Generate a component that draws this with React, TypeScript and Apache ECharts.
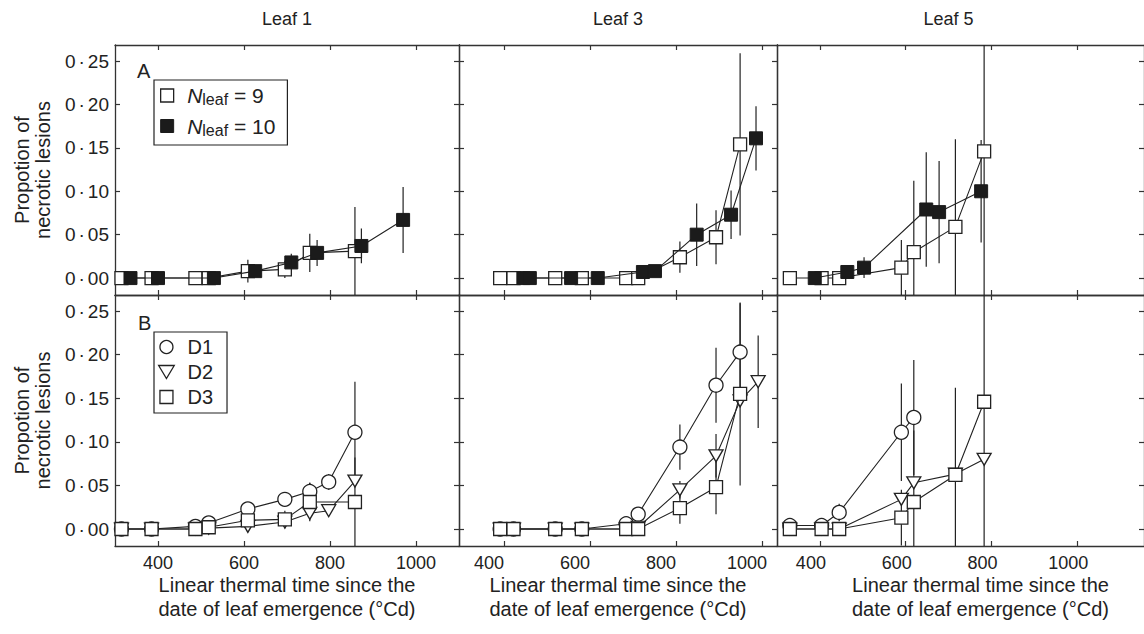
import React, { useEffect, useRef } from "react";
import * as echarts from "echarts";

// ---------- tick values & labels ----------
const xTicks = [400, 600, 800, 1000];
const yTicks = [0, 0.05, 0.1, 0.15, 0.2, 0.25];
const leafTitles = ["Leaf 1", "Leaf 3", "Leaf 5"];
const xTitle = "Linear thermal time since the\ndate of leaf emergence (°Cd)";
const yTitle = "Propotion of\nnecrotic lesions";
const panelLetters = ["A", "B"];

// ---------- Panel A (Nleaf = 9 / Nleaf = 10) ----------
// Leaf 1
const l1N9X = [315, 385, 487, 518, 609, 695, 753, 858];
const l1N9Y = [0, 0, 0, 0, 0.008, 0.01, 0.029, 0.031];
const l1N9E = [0, 0, 0, 0, 0.013, 0.01, 0.022, 0.051];
const l1N10X = [336, 400, 530, 626, 710, 770, 873, 970];
const l1N10Y = [0, 0, 0, 0.008, 0.018, 0.029, 0.037, 0.067];
const l1N10E = [0, 0, 0, 0, 0.01, 0.015, 0.02, 0.038];
// Leaf 3
const l3N9X = [391, 422, 519, 581, 684, 712, 809, 893, 949];
const l3N9Y = [0, 0, 0, 0, 0, 0, 0.024, 0.047, 0.154];
const l3N9E = [0, 0, 0, 0, 0, 0, 0.018, 0.031, 0.105];
const l3N10X = [445, 460, 556, 618, 723, 751, 848, 928, 986];
const l3N10Y = [0, 0, 0, 0, 0.007, 0.008, 0.05, 0.073, 0.161];
const l3N10E = [0, 0, 0, 0, 0.006, 0.006, 0.036, 0.028, 0.037];
// Leaf 5
const l5N9X = [330, 404, 445, 590, 619, 716, 783];
const l5N9Y = [0, 0, 0, 0.012, 0.03, 0.059, 0.146];
const l5N9E = [0, 0, 0, 0.032, 0.082, 0.101, 0.3];
const l5N10X = [388, 464, 503, 648, 678, 776];
const l5N10Y = [0, 0.007, 0.012, 0.079, 0.076, 0.1];
const l5N10E = [0, 0.005, 0.012, 0.066, 0.059, 0.059];

// ---------- Panel B (D1 / D2 / D3) ----------
// Leaf 1
const l1D1X = [315, 385, 487, 518, 609, 695, 753, 797, 858];
const l1D1Y = [0, 0, 0.003, 0.007, 0.023, 0.034, 0.043, 0.054, 0.111];
const l1D1E = [0, 0, 0, 0, 0, 0.008, 0.01, 0.009, 0.058];
const l1D2X = [315, 385, 487, 518, 609, 695, 753, 797, 858];
const l1D2Y = [0, 0, 0, 0.001, 0.003, 0.008, 0.018, 0.021, 0.055];
const l1D2E = [0, 0, 0, 0, 0, 0, 0, 0, 0];
const l1D3X = [315, 385, 487, 518, 609, 695, 753, 858];
const l1D3Y = [0, 0, 0, 0.002, 0.01, 0.011, 0.031, 0.031];
const l1D3E = [0, 0, 0, 0, 0.012, 0.01, 0.022, 0.051];
// Leaf 3
const l3D1X = [391, 422, 519, 581, 684, 712, 809, 893, 949];
const l3D1Y = [0, 0, 0, 0, 0.006, 0.017, 0.094, 0.165, 0.203];
const l3D1E = [0, 0, 0, 0, 0, 0, 0.026, 0.043, 0.056];
const l3D2X = [391, 422, 519, 581, 684, 712, 809, 893, 949, 991];
const l3D2Y = [0, 0, 0, 0, 0, 0.002, 0.045, 0.084, 0.147, 0.169];
const l3D2E = [0, 0, 0, 0, 0, 0, 0.01, 0.025, 0, 0.053];
const l3D3X = [391, 422, 519, 581, 684, 712, 809, 893, 949];
const l3D3Y = [0, 0, 0, 0, 0, 0, 0.024, 0.048, 0.155];
const l3D3E = [0, 0, 0, 0, 0, 0, 0.018, 0.031, 0.105];
// Leaf 5
const l5D1X = [330, 404, 445, 590, 619];
const l5D1Y = [0.004, 0.004, 0.019, 0.111, 0.128];
const l5D1E = [0, 0, 0.01, 0.056, 0.066];
const l5D2X = [330, 404, 445, 590, 619, 716, 783];
const l5D2Y = [0, 0, 0, 0.034, 0.053, 0.063, 0.08];
const l5D2E = [0, 0, 0, 0, 0, 0, 0];
const l5D3X = [330, 404, 445, 590, 619, 716, 783];
const l5D3Y = [0, 0, 0, 0.013, 0.031, 0.062, 0.146];
const l5D3E = [0, 0, 0, 0.032, 0.082, 0.1, 0.3];

// ---------- layout / style ----------
const FONT = "'Liberation Sans', Arial, Helvetica, sans-serif";
const INK = "#222";
const AXIS = "#333";
const Y_MIN = -0.0195;
const Y_MAX = 0.2685;
// labelShift: horizontal offset of tick labels vs. ticks; headShift / titleShift: offsets of names
const cols = [
  { left: 115, width: 344, min: 300, max: 1100, labelShift: 0, headShift: 0, titleShift: 0 },
  { left: 459, width: 318, min: 295.3, max: 1034.8, labelShift: -15, headShift: 0, titleShift: 0 },
  { left: 777, width: 368, min: 300, max: 1155.8, labelShift: -9, headShift: -12, titleShift: 20 },
];
const rows = [
  { top: 45, height: 250 },
  { top: 295, height: 251 },
];

const N9 = "Nleaf = 9";
const N10 = "Nleaf = 10";
const D1 = "D1";
const D2 = "D2";
const D3 = "D3";

const openStyle = { color: "#fff", borderColor: INK, borderWidth: 1.3 };
const filledStyle = { color: "#1b1b1b", borderColor: "#1b1b1b", borderWidth: 1 };
const markers: Record<string, any> = {
  [N9]: { symbol: "rect", symbolSize: 13, itemStyle: openStyle },
  [N10]: { symbol: "rect", symbolSize: 13, itemStyle: filledStyle },
  [D1]: { symbol: "circle", symbolSize: 14, itemStyle: openStyle },
  [D2]: { symbol: "triangle", symbolSize: [14, 12], symbolRotate: 180, itemStyle: openStyle },
  [D3]: { symbol: "rect", symbolSize: 13, itemStyle: openStyle },
};

type Set = { name: string; x: number[]; y: number[]; e: number[] };
const panels: Set[][] = [
  [
    { name: N9, x: l1N9X, y: l1N9Y, e: l1N9E },
    { name: N10, x: l1N10X, y: l1N10Y, e: l1N10E },
  ],
  [
    { name: N9, x: l3N9X, y: l3N9Y, e: l3N9E },
    { name: N10, x: l3N10X, y: l3N10Y, e: l3N10E },
  ],
  [
    { name: N9, x: l5N9X, y: l5N9Y, e: l5N9E },
    { name: N10, x: l5N10X, y: l5N10Y, e: l5N10E },
  ],
  [
    { name: D1, x: l1D1X, y: l1D1Y, e: l1D1E },
    { name: D2, x: l1D2X, y: l1D2Y, e: l1D2E },
    { name: D3, x: l1D3X, y: l1D3Y, e: l1D3E },
  ],
  [
    { name: D1, x: l3D1X, y: l3D1Y, e: l3D1E },
    { name: D2, x: l3D2X, y: l3D2Y, e: l3D2E },
    { name: D3, x: l3D3X, y: l3D3Y, e: l3D3E },
  ],
  [
    { name: D1, x: l5D1X, y: l5D1Y, e: l5D1E },
    { name: D2, x: l5D2X, y: l5D2Y, e: l5D2E },
    { name: D3, x: l5D3X, y: l5D3Y, e: l5D3E },
  ],
];

const fmtY = (v: number) => {
  const [a, b] = v.toFixed(2).split(".");
  return `{n|${a}}{d|·}{n|${b}}`;
};
const fmtX = (v: number) => `{v|${v}}`;
const shiftPad = (s: number) => (s < 0 ? [0, -2 * s, 0, 0] : [0, 0, 0, 2 * s]);

function buildOption() {
  const grid: any[] = [];
  const xAxis: any[] = [];
  const yAxis: any[] = [];
  const series: any[] = [];
  const axisLine = { show: true, onZero: false, lineStyle: { color: AXIS, width: 1.3 } };
  const tickStyle = { color: AXIS, width: 1.2 };

  rows.forEach((r, ri) => {
    cols.forEach((c, ci) => {
      const g = ri * 3 + ci;
      grid.push({ left: c.left, top: r.top, width: c.width, height: r.height, containLabel: false });
      const xBase = {
        type: "value",
        gridIndex: g,
        min: c.min,
        max: c.max,
        axisLine,
        splitLine: { show: false },
        axisTick: { show: true, inside: true, length: 5, customValues: xTicks, lineStyle: tickStyle },
      };
      xAxis.push({
        ...xBase,
        position: "bottom",
        axisLabel: {
          show: ri === 1,
          customValues: xTicks,
          formatter: fmtX,
          margin: 8,
          color: INK,
          fontFamily: FONT,
          fontSize: 18,
          rich: {
            v: { fontSize: 18, color: INK, fontFamily: FONT, padding: shiftPad(c.labelShift) },
          },
        },
        name: ri === 1 ? xTitle : "",
        nameLocation: "middle",
        nameGap: 21,
        nameTextStyle: {
          fontSize: 20,
          lineHeight: 24,
          color: INK,
          fontFamily: FONT,
          padding: shiftPad(c.titleShift),
        },
      });
      xAxis.push({
        ...xBase,
        position: "top",
        axisLabel: { show: false },
        name: ri === 0 ? leafTitles[ci] : "",
        nameLocation: "middle",
        nameGap: 16,
        nameTextStyle: {
          fontSize: 18,
          lineHeight: 21,
          color: INK,
          fontFamily: FONT,
          padding: shiftPad(c.headShift),
        },
      });
      const yBase = {
        type: "value",
        gridIndex: g,
        min: Y_MIN,
        max: Y_MAX,
        axisLine,
        splitLine: { show: false },
      };
      yAxis.push({
        ...yBase,
        position: "left",
        axisTick: { show: ci !== 2, inside: true, length: 5, customValues: yTicks, lineStyle: tickStyle },
        axisLabel: {
          show: ci === 0,
          customValues: yTicks,
          formatter: fmtY,
          margin: 6,
          color: INK,
          fontFamily: FONT,
          fontSize: 19,
          rich: {
            n: { fontSize: 19, color: INK, fontFamily: FONT },
            d: { fontSize: 19, color: INK, fontFamily: FONT, padding: [0, 3, 0, 3] },
          },
        },
        name: ci === 0 ? yTitle : "",
        nameLocation: "middle",
        nameGap: 62,
        nameRotate: 90,
        nameTextStyle: { fontSize: 20, lineHeight: 21, color: INK, fontFamily: FONT },
      });
      yAxis.push({
        ...yBase,
        position: "right",
        axisTick: { show: true, inside: true, length: 5, customValues: yTicks, lineStyle: tickStyle },
        axisLabel: { show: false },
      });

      const sets = panels[g];
      // error bars first (behind markers)
      sets.forEach((s) => {
        series.push({
          type: "custom",
          xAxisIndex: 2 * g,
          yAxisIndex: 2 * g,
          silent: true,
          z: 2,
          encode: { x: 0, y: 1 },
          data: s.x.map((x, i) => [x, s.y[i], s.e[i]]),
          renderItem: (params: any, api: any) => {
            const x = api.value(0);
            const y = api.value(1);
            const e = api.value(2);
            if (!e) return null;
            const lo = Math.max(y - e, Y_MIN);
            const hi = Math.min(y + e, Y_MAX);
            const p1 = api.coord([x, lo]);
            const p2 = api.coord([x, hi]);
            return {
              type: "line",
              shape: { x1: p1[0], y1: p1[1], x2: p2[0], y2: p2[1] },
              style: { stroke: INK, lineWidth: 1.2 },
            };
          },
        });
      });
      sets.forEach((s, si) => {
        const m = markers[s.name];
        series.push({
          type: "line",
          name: s.name,
          xAxisIndex: 2 * g,
          yAxisIndex: 2 * g,
          silent: true,
          z: 3 + si,
          data: s.x.map((x, i) => [x, s.y[i]]),
          symbol: m.symbol,
          symbolSize: m.symbolSize,
          symbolRotate: m.symbolRotate || 0,
          itemStyle: m.itemStyle,
          lineStyle: { color: INK, width: 1.1 },
          emphasis: { disabled: true },
        });
      });
    });
  });

  const SQ = "path://M0,0H10V10H0Z";
  const TRI = "path://M0,0H12L6,10Z";
  const legend = [
    {
      left: 154,
      top: 80,
      orient: "vertical",
      selectedMode: false,
      itemWidth: 30,
      itemHeight: 13,
      itemGap: 8,
      padding: [5, 12, 7, 6],
      borderColor: INK,
      borderWidth: 1.2,
      borderRadius: 0,
      data: [
        { name: N9, icon: SQ, itemStyle: openStyle },
        { name: N10, icon: SQ, itemStyle: filledStyle },
      ],
      formatter: (name: string) => (name === N9 ? "{i|N}{s|leaf}{t| = 9}" : "{i|N}{s|leaf}{t| = 10}"),
      textStyle: {
        color: INK,
        fontFamily: FONT,
        rich: {
          i: { fontStyle: "italic", fontSize: 21, lineHeight: 24, fontFamily: FONT, color: INK },
          s: { fontSize: 16, verticalAlign: "bottom", fontFamily: FONT, color: INK },
          t: { fontSize: 21, lineHeight: 24, fontFamily: FONT, color: INK },
        },
      },
    },
    {
      left: 154,
      top: 332,
      orient: "vertical",
      selectedMode: false,
      itemWidth: 32,
      itemHeight: 13,
      itemGap: 5,
      padding: [5, 14, 6, 4],
      borderColor: INK,
      borderWidth: 1.2,
      borderRadius: 0,
      data: [
        { name: D1, icon: "circle", itemStyle: openStyle },
        { name: D2, icon: TRI, itemStyle: openStyle },
        { name: D3, icon: SQ, itemStyle: openStyle },
      ],
      textStyle: { color: INK, fontFamily: FONT, fontSize: 20, lineHeight: 20 },
    },
  ];

  const letterStyle = { fontSize: 20, fontWeight: "normal", color: INK, fontFamily: FONT };
  const title = [
    { text: panelLetters[0], left: 137, top: 61, padding: 0, textStyle: letterStyle },
    { text: panelLetters[1], left: 138, top: 313, padding: 0, textStyle: letterStyle },
  ];

  return {
    animation: false,
    backgroundColor: "#fff",
    textStyle: { fontFamily: FONT },
    title,
    legend,
    grid,
    xAxis,
    yAxis,
    series,
  };
}

export default function App() {
  const ref = useRef<HTMLDivElement>(null);
  useEffect(() => {
    if (!ref.current) return;
    const chart = echarts.init(ref.current, undefined, { renderer: "svg" });
    chart.setOption(buildOption() as any);
    return () => chart.dispose();
  }, []);
  return (
    <div
      ref={ref}
      style={{ position: "fixed", left: 0, top: 0, width: 1144, height: 634, background: "#fff" }}
    />
  );
}
